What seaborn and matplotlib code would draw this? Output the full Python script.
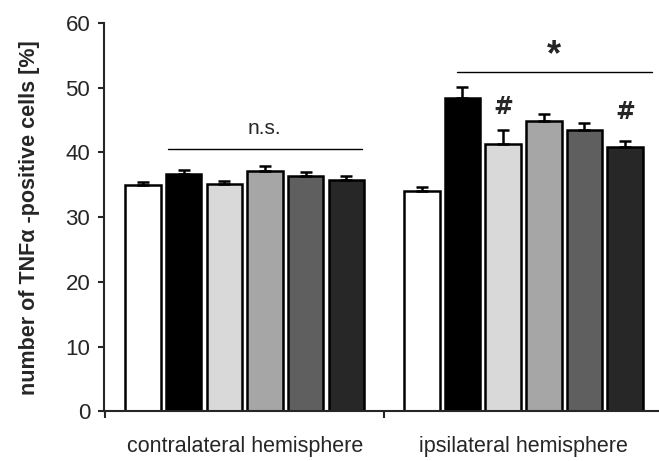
import pandas as pd
import numpy as np
import matplotlib
matplotlib.use('Agg')
import matplotlib.pyplot as plt
import seaborn as sns

# Data
hemispheres = ['contralateral hemisphere', 'ipsilateral hemisphere']
groups = ['g1', 'g2', 'g3', 'g4', 'g5', 'g6']
contra_means = [34.9, 36.7, 35.1, 37.1, 36.3, 35.7]
contra_err = [0.5, 0.6, 0.5, 0.8, 0.6, 0.6]
ipsi_means = [34.0, 48.4, 41.3, 44.8, 43.4, 40.9]
ipsi_err = [0.7, 1.7, 2.1, 1.2, 1.1, 0.9]
colors = ['#ffffff', '#000000', '#d9d9d9', '#a6a6a6', '#5f5f5f', '#272727']

df = pd.DataFrame({
    'hemisphere': [hemispheres[0]] * 6 + [hemispheres[1]] * 6,
    'group': groups * 2,
    'value': contra_means + ipsi_means,
    'err': contra_err + ipsi_err,
})

sns.set_style('ticks')
plt.rcParams['font.family'] = ['Liberation Sans', 'DejaVu Sans']

fig = plt.figure(figsize=(6.59, 4.61), dpi=100)
ax = fig.add_axes([0.158, 0.108, 0.842, 0.842])

sns.barplot(data=df, x='hemisphere', y='value', hue='group', order=hemispheres,
            hue_order=groups, palette=colors, width=0.875, gap=0.13,
            edgecolor='black', linewidth=1.8, errorbar=None, legend=False, ax=ax)

# error bars (upper only) on top of each bar
for bars, (_, sub) in zip(ax.containers, df.groupby('group', sort=False)):
    xs = [p.get_x() + p.get_width() / 2 for p in bars.patches]
    ax.errorbar(xs, sub['value'], yerr=[np.zeros(len(sub)), sub['err']], fmt='none',
                ecolor='black', elinewidth=1.8, capsize=4.3, capthick=1.8, zorder=1)

# significance annotations
ax.plot([-0.275, 0.42], [40.5, 40.5], color='black', lw=1)
ax.text(0.07, 43.7, 'n.s.', ha='center', va='center', fontsize=15)
ax.plot([0.76, 1.46], [52.4, 52.4], color='black', lw=1)
ax.text(1.11, 55.0, '*', ha='center', va='center', fontsize=26, fontweight='bold')
light_x = ax.containers[2].patches[1]
dark_x = ax.containers[5].patches[1]
ax.text(light_x.get_x() + light_x.get_width() / 2, 47.1, '#', ha='center', va='center',
        fontsize=17, fontweight='bold', family='DejaVu Sans')
ax.text(dark_x.get_x() + dark_x.get_width() / 2, 46.2, '#', ha='center', va='center',
        fontsize=17, fontweight='bold', family='DejaVu Sans')

ax.set_ylim(0, 60)
ax.set_xlim(-0.504, 1.486)
ax.set_yticks(range(0, 61, 10))
ax.set_xticks([0, 1])
ax.set_xticklabels(hemispheres)
ax.set_xticks([-0.5, 0.5], minor=True)
ax.tick_params(axis='x', which='major', length=0, pad=18, labelsize=15.5)
ax.tick_params(axis='x', which='minor', length=5, width=1.5, direction='out')
ax.tick_params(axis='y', length=4, width=1.5, labelsize=16, pad=6)
ax.set_xlabel('')
ax.set_ylabel('number of TNFα -positive cells [%]', fontsize=15.5, fontweight='bold', labelpad=18)
sns.despine(ax=ax)
for s in ['left', 'bottom']:
    ax.spines[s].set_linewidth(1.5)

fig.savefig('out.png', dpi=100)
